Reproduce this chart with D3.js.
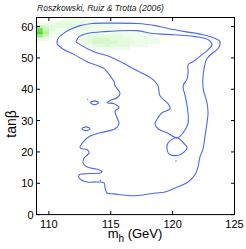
<!DOCTYPE html>
<html><head><meta charset="utf-8">
<script src="https://cdn.jsdelivr.net/npm/d3@7"></script>
<style>body{margin:0;background:#fff}svg{display:block}</style>
</head><body>
<svg id="c" width="246" height="249"></svg>
<script>
// ---- data ----
const title = "Roszkowski, Ruiz & Trotta (2006)";
const xTicks = [110, 115, 120, 125];
const yTicks = [0, 10, 20, 30, 40, 50, 60];
// density grid (green shading): rows = tanβ bin centres, cols = m_h bin centres
const gridT = [62, 61, 60, 59, 58, 57, 56, 55, 54, 53];
const gridM = [109.25,109.75,110.25,110.75,111.25,111.75,112.25,112.75,113.25,113.75,114.25,114.75,115.25,115.75,116.25,116.75,117.25,117.75,118.25,118.75,119.25,119.75];
const gridV = [
 [0,0,0,0,1,1,1,1,1,1,0,0,0,0,0,0,0,0,0,0,0,0],
 [1,1,1,2,2,2,2,2,1,1,1,1,0,0,0,0,0,0,0,0,0,0],
 [4,3,2,2,2,2,2,2,2,1,1,1,1,0,0,0,0,0,0,0,0,0],
 [8,4,2,1,1,1,1,1,1,1,1,1,1,1,0,0,0,0,0,0,0,0],
 [9,5,1,1,0,0,0,1,1,1,1,1,1,1,1,1,1,1,0,0,0,0],
 [6,3,1,0,0,0,0,1,2,2,2,2,2,2,1,1,1,1,1,0,0,0],
 [2,1,0,0,0,0,0,1,2,3,3,3,2,2,2,1,1,1,1,1,0,0],
 [0,0,0,0,0,0,0,1,2,3,3,3,3,2,2,2,1,1,1,1,0,0],
 [0,0,0,0,0,0,0,0,1,2,2,3,2,2,2,1,1,1,0,0,0,0],
 [0,0,0,0,0,0,0,0,1,1,1,1,1,1,1,0,0,0,0,0,0,0]
];
// contours [m_h, tanβ]
const outer = [[110.66,54.6],[110.74,56.2],[111.07,57.5],[111.71,59.05],[112.52,60.3],[113.49,61.0],[114.95,61.1],[117.13,61.0],[118.01,60.65],[118.58,60.3],[119.63,59.4],[121.01,58.4],[122.38,57.5],[123.43,56.2],[123.83,55.2],[123.67,53.0],[123.18,51.4],[122.78,49.8],[122.54,46.6],[122.46,40.5],[122.78,35.7],[122.86,32.5],[122.78,29.3],[122.62,25.1],[122.46,21.0],[122.21,18.4],[122.05,15.2],[121.81,12.7],[121.25,10.4],[120.2,8.5],[119.39,7.2],[118.58,6.9],[116.96,6.0],[115.27,6.6],[114.7,6.9],[114.54,8.5],[114.46,10.1],[113.9,10.4],[113.09,10.4],[112.44,11.7],[112.44,12.7],[112.85,13.0],[114.14,13.3],[114.3,13.6],[114.06,14.3],[113.09,15.2],[112.76,16.5],[112.85,18.1],[113.25,19.7],[113.09,20.7],[112.52,21.3],[112.85,23.5],[113.33,25.1],[114.14,26.1],[115.35,27.4],[115.67,29.0],[115.51,30.9],[115.35,33.1],[115.67,34.1],[115.27,35.4],[114.7,35.7],[114.87,36.3],[115.51,37.3],[115.75,38.6],[115.51,40.2],[115.35,41.1],[115.27,42.4],[114.87,44.7],[114.46,46.6],[113.09,48.8],[112.04,51.05],[111.07,53.0]];
const innerUpper = [[112.28,55.85],[112.44,56.8],[113.09,57.8],[114.46,58.4],[117.13,58.7],[118.34,57.8],[119.63,57.5],[121.81,56.8],[122.86,55.85],[123.18,54.25],[122.86,52.6],[122.38,51.05],[121.65,48.8],[121.25,47.85],[121.25,45.6],[121.17,43.3],[120.85,41.1],[121.01,37.9],[121.17,34.7],[121.25,29.3],[120.85,26.1],[120.36,24.5],[119.55,26.1],[118.82,27.4],[118.58,29.0],[118.82,30.9],[119.14,32.5],[119.79,33.8],[119.63,35.4],[118.98,37.9],[118.82,41.1],[118.42,43.1],[117.77,44.7],[116.96,46.3],[116.07,48.2],[114.95,50.4],[113.65,52.0],[112.52,54.25],[112.2,55.2]];
const innerLower = [[120.36,24.5],[121.01,22.3],[121.17,21.3],[120.6,19.1],[119.79,19.1],[119.55,20.7],[119.63,22.9]];
const islands = [[[113.36,35.7],[113.69,36.3],[114.02,35.7],[113.69,35.1]],[[112.67,27.4],[113.0,28.0],[113.33,27.4],[113.0,26.8]]];
const dots = [[113.14,36.7],[114.16,10.8],[120.27,17.1]];

// ---- drawing ----
const svg = d3.select("#c");
const L = 36.5, R = 234.5, T = 17.5, B = 214.6;
const x = d3.scaleLinear().domain([109, 125]).range([L, R]);
const y = d3.scaleLinear().domain([0, 62.9]).range([B, T]);

svg.append("defs").append("clipPath").attr("id","clip")
  .append("rect").attr("x",L).attr("y",T).attr("width",R-L).attr("height",B-T);

const col = d3.scalePow().exponent(1.5).domain([0, 9]).range([0.05, 0.92]);
const green = d3.interpolateRgb("#ffffff", "#3fdc10");
const g = svg.append("g").attr("clip-path","url(#clip)");
gridV.forEach((row, i) => row.forEach((v, j) => {
  if (!v) return;
  const m = gridM[j], t = gridT[i];
  g.append("rect")
    .attr("x", x(m - 0.25)).attr("y", y(t + 0.5))
    .attr("width", x(m + 0.25) - x(m - 0.25) + 0.3)
    .attr("height", y(t - 0.5) - y(t + 0.5) + 0.3)
    .attr("fill", green(col(v)));
}));

const line = d3.line().x(d => x(d[0])).y(d => y(d[1])).curve(d3.curveCatmullRomClosed.alpha(0.5));
const blue = "#4b67ee";
[outer, innerUpper, innerLower, ...islands].forEach(p =>
  g.append("path").attr("d", line(p)).attr("fill","none").attr("stroke",blue).attr("stroke-width",1.1));
dots.forEach(d => g.append("circle").attr("cx",x(d[0])).attr("cy",y(d[1])).attr("r",0.7).attr("fill",blue));

// axes box
const ax = svg.append("g").attr("stroke","#000").attr("stroke-width",1).attr("fill","none");
ax.append("rect").attr("x",L).attr("y",T).attr("width",R-L).attr("height",B-T);
xTicks.forEach(v => {
  ax.append("line").attr("x1",x(v)).attr("x2",x(v)).attr("y1",B).attr("y2",B-3.5);
  ax.append("line").attr("x1",x(v)).attr("x2",x(v)).attr("y1",T).attr("y2",T+3.5);
});
yTicks.forEach(v => {
  ax.append("line").attr("x1",L).attr("x2",L+3.5).attr("y1",y(v)).attr("y2",y(v));
  ax.append("line").attr("x1",R).attr("x2",R-3.5).attr("y1",y(v)).attr("y2",y(v));
});

const font = "'Liberation Sans', Arial, sans-serif";
svg.append("g").selectAll("text").data(xTicks).join("text")
  .attr("x", d => x(d)).attr("y", 228).attr("text-anchor","middle")
  .attr("font-family",font).attr("font-size",11).text(d => d);
svg.append("g").selectAll("text").data(yTicks).join("text")
  .attr("x", 33.5).attr("y", d => y(d) + 4).attr("text-anchor","end")
  .attr("font-family",font).attr("font-size",11).text(d => d);

const xl = svg.append("text").attr("x",135).attr("y",237.5).attr("text-anchor","middle")
  .attr("font-family",font).attr("font-size",13);
xl.append("tspan").text("m");
xl.append("tspan").attr("font-size",10).attr("dy",4).text("h");
xl.append("tspan").attr("dy",-4).text(" (GeV)");

svg.append("text").attr("transform","translate(16,124) rotate(-90)").attr("text-anchor","middle")
  .attr("font-family",font).attr("font-size",14).text("tanβ");

svg.append("text").attr("x",37).attr("y",11).attr("font-family",font).attr("font-style","italic")
  .attr("font-size",8.6).attr("fill","#222").text(title);
</script>
</body></html>
